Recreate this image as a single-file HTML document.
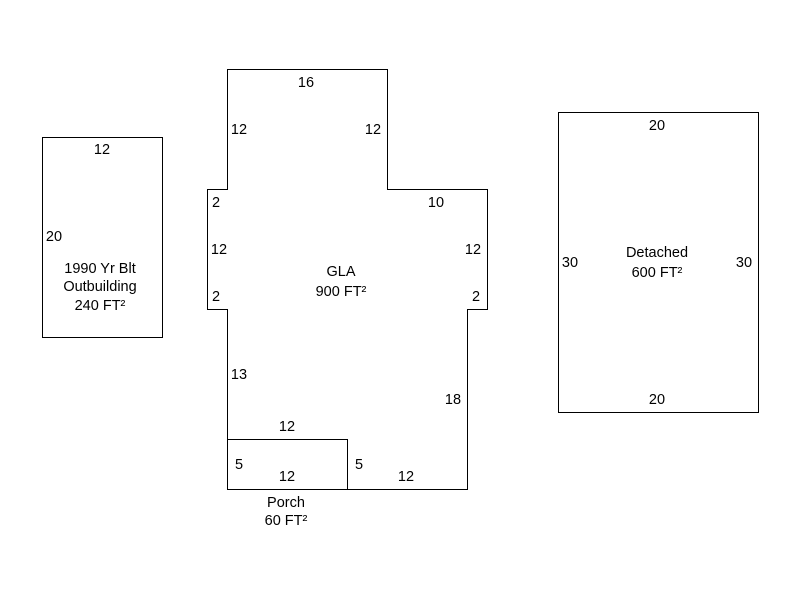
<!DOCTYPE html>
<html><head><meta charset="utf-8"><style>
html,body{margin:0;padding:0;background:#fff;}
svg{display:block;}
text{font-family:"Liberation Sans",Arial,sans-serif;font-size:14.5px;fill:#000;text-anchor:middle;}
</style></head><body>
<svg width="800" height="600" viewBox="0 0 800 600" xmlns="http://www.w3.org/2000/svg">
<g fill="none" stroke="#000" stroke-width="1" shape-rendering="crispEdges">
<rect x="42.5" y="137.5" width="120" height="200"/>
<polygon points="227.5,69.5 387.5,69.5 387.5,189.5 487.5,189.5 487.5,309.5 467.5,309.5 467.5,489.5 347.5,489.5 347.5,439.5 227.5,439.5 227.5,309.5 207.5,309.5 207.5,189.5 227.5,189.5"/>
<rect x="227.5" y="439.5" width="120" height="50"/>
<rect x="558.5" y="112.5" width="200" height="300"/>
</g>
<text x="102" y="154">12</text>
<text x="54" y="241">20</text>
<text x="100" y="273">1990 Yr Blt</text>
<text x="100" y="291">Outbuilding</text>
<text x="100" y="310">240 FT²</text>

<text x="306" y="87">16</text>
<text x="239" y="134">12</text>
<text x="373" y="134">12</text>
<text x="216" y="207">2</text>
<text x="436" y="207">10</text>
<text x="219" y="254">12</text>
<text x="473" y="254">12</text>
<text x="341" y="276">GLA</text>
<text x="341" y="296">900 FT²</text>
<text x="216" y="301">2</text>
<text x="476" y="301">2</text>
<text x="239" y="379">13</text>
<text x="453" y="404">18</text>
<text x="287" y="431">12</text>
<text x="239" y="469">5</text>
<text x="287" y="481">12</text>
<text x="359" y="469">5</text>
<text x="406" y="481">12</text>
<text x="286" y="507">Porch</text>
<text x="286" y="525">60 FT²</text>

<text x="657" y="130">20</text>
<text x="570" y="267">30</text>
<text x="657" y="257">Detached</text>
<text x="657" y="277">600 FT²</text>
<text x="744" y="267">30</text>
<text x="657" y="404">20</text>
</svg>
</body></html>
